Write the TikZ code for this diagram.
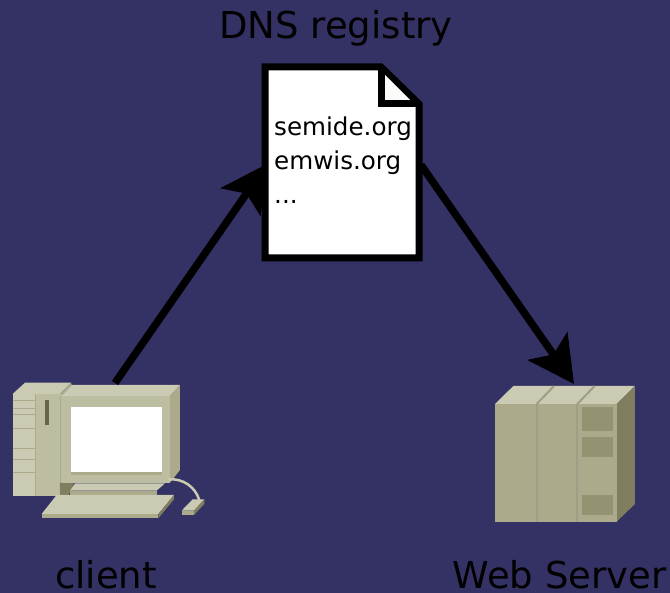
\documentclass[tikz,border=0pt]{standalone}
\usepackage{fontspec}
\setmainfont{DejaVu Sans}
\usepackage{xcolor}
\usepackage{tikz}
\usetikzlibrary{arrows.meta}
\usetikzlibrary{positioning}
\definecolor{bgblue}{HTML}{343164}
\definecolor{hwlight}{HTML}{CBCBB3}
\definecolor{hwmid}{HTML}{ABAB8B}
\definecolor{hwpale}{HTML}{BDBDA2}
\definecolor{hwdark}{HTML}{7F7F5F}
\definecolor{hwpanel}{HTML}{939371}
\tikzset{>=latex}
\tikzstyle{label} = [anchor=base, inner sep=0, text=black, font=\fontsize{37}{40}\selectfont]
\tikzstyle{link} = [line width=7.5, -{Stealth[length=46, width=48, inset=10]}]
\tikzstyle{seam} = [draw=hwdark!75, line width=1]

\begin{document}
\begin{tikzpicture}[x=1pt, y=-1pt]
\useasboundingbox (0,0) rectangle (670,593);
\fill [bgblue] (0,0) rectangle (670,593);
% registry page
\draw [line width=7, fill=white] (265,67) -- (381,67) -- (419,104) -- (419,258) -- (265,258) -- cycle;
\fill [white!92!hwlight] (384,74) -- (384,101) -- (411,101) -- cycle;
\draw [line width=7, line join=miter] (381,67) -- (381,104) -- (419,104);
\node [anchor=north west, inner sep=0, align=left, font=\fontsize{24.6}{34}\selectfont] (entries) at (274,116.5) {semide.org\\emwis.org\\...};
% client machine
\begin{scope}[shift={(0,370)}, scale=0.3333]
\fill [hwlight] (38,72) -- (75,38) -- (213,38) -- (180,72) -- cycle;
\fill [hwmid] (180,72) -- (213,38) -- (215,45) -- (185,78) -- cycle;
\fill [hwlight] (38,72) rectangle (108,378);
\fill [hwpale] (108,72) rectangle (186,378);
\fill [hwdark] (180,338) -- (222,338) -- (205,378) -- (180,378) -- cycle;
\foreach \yy in {92,115,135,175,235,268,308} {
  \draw [seam, draw=hwmid] (38,\yy) -- (108,\yy);
}
\draw [seam, draw=hwmid] (108,72) -- (108,378);
\fill [hwdark!80!black] (135,90) rectangle (148,165);
\fill [hwlight] (185,78) -- (215,45) -- (540,45) -- (510,78) -- cycle;
\fill [hwmid] (510,78) -- (540,45) -- (540,300) -- (510,338) -- cycle;
\fill [hwpale] (185,78) rectangle (510,338);
\draw [seam, draw=hwmid] (183,78) -- (183,338);
\fill [white] (213,112) rectangle (485,305);
\fill [hwmid] (213,305) rectangle (485,315);
\fill [hwlight] (225,340) -- (495,340) -- (470,362) -- (210,362) -- cycle;
\fill [hwmid] (210,362) rectangle (470,375);
\draw [hwlight, line width=2.5] (505,328) .. controls (550,325) and (585,350) .. (598,390);
\fill [hwlight] (170,375) -- (522,375) -- (475,432) -- (125,432) -- cycle;
\fill [hwmid] (125,432) rectangle (475,445);
\fill [hwdark] (475,432) -- (522,375) -- (522,388) -- (475,445) -- cycle;
\fill [hwlight] (545,422) -- (578,388) -- (613,388) -- (582,422) -- cycle;
\fill [hwmid] (545,422) rectangle (582,435);
\fill [hwdark] (582,422) -- (613,388) -- (613,402) -- (582,435) -- cycle;
\end{scope}
% web server
\begin{scope}[shift={(480,370)}, scale=0.3333]
\fill [hwlight] (45,102) -- (100,48) -- (465,48) -- (410,102) -- cycle;
\fill [hwdark] (410,102) -- (465,48) -- (465,402) -- (410,455) -- cycle;
\fill [hwmid] (45,102) rectangle (410,455);
\fill [hwpanel] (305,112) rectangle (400,182);
\fill [hwpanel] (305,202) rectangle (400,262);
\fill [hwpanel] (305,374) rectangle (400,436);
\foreach \xx in {170,292} {
  \draw [seam, line width=2] (\xx,102) -- (\xx,455);
  \draw [seam, line width=2] (\xx,102) -- (\xx+52,48);
}
\end{scope}
\node [label] (registry) at (336,39) {DNS registry};
\node [label] (client) at (106,588.5) {client};
\node [label] (server) at (559.5,588.5) {Web Server};
\coordinate (clientout) at (115,383);
\coordinate (pagein) at (267,164);
\coordinate (pageout) at (421,165);
\coordinate (serverin) at (574,384);
\draw [link] (clientout) -- (pagein);
\draw [link] (pageout) -- (serverin);
\end{tikzpicture}
\end{document}
